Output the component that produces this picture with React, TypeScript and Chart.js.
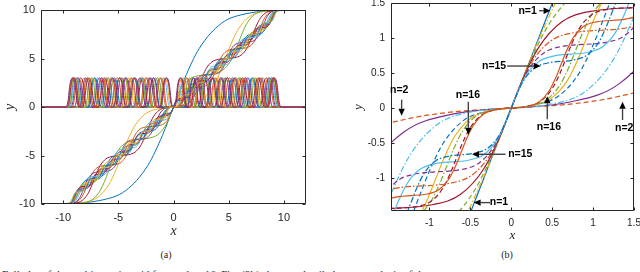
import React, { useEffect, useRef } from 'react';
import { Chart, registerables } from 'chart.js';

Chart.register(...registerables);

// MATLAB default colour order
const COLORS = ['#0072BD', '#D95319', '#EDB120', '#7E2F8E', '#77AC30', '#4DBEEE', '#A2142F'];

// Step centres (x >= 0) of the staircase sigmoid for each n = 1..16
const trans1 = [0];
const trans2 = [4.7];
const trans3 = [0, 5.9];
const trans4 = [2.4, 7.2];
const trans5 = [0, 3.9, 7.8];
const trans6 = [1.62, 4.86, 8.1];
const trans7 = [0, 2.8, 5.6, 8.4];
const trans8 = [1.12, 3.6, 6.1, 8.6];
const trans9 = [0, 2.18, 4.35, 6.53, 8.7];
const trans10 = [0.92, 2.9, 4.87, 6.84, 8.8];
const trans11 = [0, 1.78, 3.56, 5.34, 7.12, 8.9];
const trans12 = [0.79, 2.43, 4.06, 5.7, 7.32, 8.95];
const trans13 = [0, 1.45, 2.95, 4.45, 5.95, 7.45, 9.0];
const trans14 = [0.67, 2.07, 3.47, 4.87, 6.26, 7.66, 9.05];
const trans15 = [0, 1.22, 2.5, 3.8, 5.1, 6.45, 7.8, 9.1];
const trans16 = [0.61, 1.83, 3.05, 4.27, 5.49, 6.71, 7.93, 9.15];
const transitions = [trans1, trans2, trans3, trans4, trans5, trans6, trans7, trans8,
  trans9, trans10, trans11, trans12, trans13, trans14, trans15, trans16];

// shape of one step (position in step widths, fraction of the step height)
const stepU = [-3, -2, -1.3, -0.7, -0.3, 0, 0.3, 0.7, 1.3, 2, 3];
const stepFrac = [0.0025, 0.018, 0.069, 0.198, 0.354, 0.5, 0.646, 0.802, 0.931, 0.982, 0.9975];
const stepCentreSlope = 3;
const outputLevel = 10;

// shape of one bump (panel a)
const bumpDx = [-0.6, -0.42, -0.22, 0, 0.22, 0.42, 0.6];
const bumpH = [0, 0.5, 2.4, 3, 2.4, 0.5, 0];

// axes
const aXMin = -12, aXMax = 12, aYMin = -10, aYMax = 10;
const aXTicks = [-10, -5, 0, 5, 10];
const aYTicks = [-10, -5, 0, 5, 10];
const bXMin = -1.47, bXMax = 1.5, bYMin = -1.47, bYMax = 1.5;
const bXTicks = [-1, -0.5, 0, 0.5, 1, 1.5];
const bYTicks = [-1, -0.5, 0, 0.5, 1, 1.5];

// annotations of panel b
const annoText = ['n=1', 'n=15', 'n=2', 'n=16', 'n=16', 'n=2', 'n=15', 'n=1'];
const annoTextX = [0.2, -0.21, -1.37, -0.53, 0.46, 1.38, 0.11, -0.15];
const annoTextY = [1.39, 0.6, 0.26, 0.18, -0.27, -0.28, -0.66, -1.35];
const arrowX0 = [0.34, -0.05, -1.34, -0.525, 0.44, 1.36, -0.07, -0.26];
const arrowY0 = [1.39, 0.6, 0.12, 0.09, -0.16, -0.17, -0.66, -1.35];
const arrowX1 = [0.48, 0.36, -1.34, -0.525, 0.44, 1.36, -0.48, -0.46];
const arrowY1 = [1.39, 0.6, -0.11, -0.38, 0.17, 0.09, -0.66, -1.35];

type P = { x: number; y: number };

function fullTransitions(pos: number[]): number[] {
  const neg = pos.filter((t) => t > 0).map((t) => -t).reverse();
  return [...neg, ...pos];
}

function stairPoints(n: number, pos: number[]): P[] {
  const ts = fullTransitions(pos);
  const h = (2 * outputLevel) / n;
  const k = (2 * stepCentreSlope) / h;
  const pts: P[] = [{ x: aXMin, y: -outputLevel }];
  ts.forEach((t, i) => {
    const gl = i > 0 ? (t - ts[i - 1]) / 2 : Infinity;
    const gr = i < ts.length - 1 ? (ts[i + 1] - t) / 2 : Infinity;
    const base = -outputLevel + i * h;
    stepU.forEach((u, j) => {
      const dx = u / k;
      if (dx <= -gl || dx >= gr) return;
      pts.push({ x: t + dx, y: base + h * stepFrac[j] });
    });
  });
  pts.push({ x: aXMax, y: outputLevel });
  pts.sort((a, b) => a.x - b.x);
  return pts;
}

function bumpPoints(pos: number[]): P[] {
  const cs = fullTransitions(pos).filter((t) => t !== 0);
  const pts: P[] = [{ x: aXMin, y: 0 }];
  cs.forEach((c) => bumpDx.forEach((d, j) => pts.push({ x: c + d, y: bumpH[j] })));
  pts.push({ x: aXMax, y: 0 });
  return pts;
}

const DASHES: number[][] = [[], [5, 3], [6, 2, 1.5, 2]];

function framePlugin(xt: number[], yt: number[], tickLen: number) {
  return {
    id: 'frame',
    afterDatasetsDraw(chart: any) {
      const { ctx, chartArea: a, scales } = chart;
      ctx.save();
      ctx.strokeStyle = '#262626';
      ctx.lineWidth = 1;
      const L = Math.round(a.left) + 0.5;
      const R = Math.round(a.right) - 0.5;
      const T = Math.round(a.top) + 0.5;
      const B = Math.round(a.bottom) - 0.5;
      ctx.beginPath();
      ctx.rect(L, T, R - L, B - T);
      xt.forEach((v) => {
        const px = Math.round(scales.x.getPixelForValue(v)) + 0.5;
        ctx.moveTo(px, B); ctx.lineTo(px, B - tickLen);
        ctx.moveTo(px, T); ctx.lineTo(px, T + tickLen);
      });
      yt.forEach((v) => {
        const py = Math.round(scales.y.getPixelForValue(v)) + 0.5;
        ctx.moveTo(L, py); ctx.lineTo(L + tickLen, py);
        ctx.moveTo(R, py); ctx.lineTo(R - tickLen, py);
      });
      ctx.stroke();
      ctx.restore();
    },
  };
}

const arrowPlugin = {
  id: 'arrows',
  afterDraw(chart: any) {
    const { ctx, scales } = chart;
    const sx = (v: number) => scales.x.getPixelForValue(v);
    const sy = (v: number) => scales.y.getPixelForValue(v);
    ctx.save();
    annoText.forEach((t, i) => {
      const x0 = sx(arrowX0[i]), y0 = sy(arrowY0[i]);
      const x1 = sx(arrowX1[i]), y1 = sy(arrowY1[i]);
      const ang = Math.atan2(y1 - y0, x1 - x0);
      const hl = 7, hw = 3.2;
      const bx = x1 - hl * Math.cos(ang), by = y1 - hl * Math.sin(ang);
      ctx.strokeStyle = '#444';
      ctx.lineWidth = 1.4;
      ctx.beginPath();
      ctx.moveTo(x0, y0);
      ctx.lineTo(bx, by);
      ctx.stroke();
      ctx.fillStyle = '#000';
      ctx.beginPath();
      ctx.moveTo(x1, y1);
      ctx.lineTo(bx - hw * Math.sin(ang), by + hw * Math.cos(ang));
      ctx.lineTo(bx + hw * Math.sin(ang), by - hw * Math.cos(ang));
      ctx.closePath();
      ctx.fill();
      ctx.font = 'bold 10.5px "Liberation Sans", Arial, sans-serif';
      ctx.textAlign = 'center';
      ctx.textBaseline = 'middle';
      ctx.fillText(t, sx(annoTextX[i]), sy(annoTextY[i]));
    });
    ctx.restore();
  },
};

function axisConfig(opts: {
  min: number; max: number; ticks: number[]; size: number; horizontal: boolean;
  fontSize: number; pad: number; title: string; titleSize: number; titlePad: any;
}) {
  return {
    type: 'linear',
    min: opts.min,
    max: opts.max,
    grid: { display: false, drawTicks: false },
    border: { display: false },
    ticks: {
      autoSkip: false,
      maxRotation: 0,
      padding: opts.pad,
      color: '#262626',
      font: { family: '"Liberation Sans", Arial, sans-serif', size: opts.fontSize },
      callback: (v: any) => String(v),
    },
    title: {
      display: true,
      text: opts.title,
      color: '#262626',
      font: { family: '"Liberation Serif", "DejaVu Serif", serif', style: 'italic', size: opts.titleSize },
      padding: opts.titlePad,
    },
    afterBuildTicks: (s: any) => {
      s.ticks = opts.ticks.map((v) => ({ value: v }));
    },
    afterFit: (s: any) => {
      if (opts.horizontal) {
        s.height = opts.size;
        s.paddingLeft = 0;
        s.paddingRight = 0;
      } else {
        s.width = opts.size;
        s.paddingTop = 0;
        s.paddingBottom = 0;
      }
    },
  };
}

function ChartA() {
  const ref = useRef<HTMLCanvasElement>(null);
  useEffect(() => {
    const datasets: any[] = [];
    transitions.forEach((pos, idx) => {
      const n = idx + 1;
      datasets.push({
        data: stairPoints(n, pos),
        borderColor: COLORS[(2 * n - 2) % 7],
        borderWidth: 1,
        pointRadius: 0,
        cubicInterpolationMode: 'monotone',
        fill: false,
      });
      datasets.push({
        data: bumpPoints(pos),
        borderColor: COLORS[(2 * n - 1) % 7],
        borderWidth: 1,
        pointRadius: 0,
        cubicInterpolationMode: 'monotone',
        fill: false,
      });
    });
    datasets.reverse();
    const chart = new Chart(ref.current as HTMLCanvasElement, {
      type: 'line',
      data: { datasets },
      options: {
        animation: false,
        responsive: true,
        maintainAspectRatio: false,
        events: [],
        layout: { padding: { left: 0, top: 10, right: 14, bottom: 0 }, autoPadding: false },
        elements: { line: { capBezierPoints: false } },
        plugins: { legend: { display: false }, tooltip: { enabled: false } },
        scales: {
          x: axisConfig({ min: aXMin, max: aXMax, ticks: aXTicks, size: 41, horizontal: true,
            fontSize: 11, pad: 7, title: 'x', titleSize: 14, titlePad: { top: 0, bottom: 5 } }),
          y: axisConfig({ min: aYMin, max: aYMax, ticks: aYTicks, size: 41, horizontal: false,
            fontSize: 11, pad: 6, title: 'y', titleSize: 14, titlePad: { top: 2, bottom: 0 } }),
        } as any,
      },
      plugins: [framePlugin(aXTicks, aYTicks, 3)],
    } as any);
    return () => chart.destroy();
  }, []);
  return (
    <div style={{ position: 'absolute', left: 0, top: 0, width: 320, height: 245 }}>
      <canvas ref={ref} />
    </div>
  );
}

function ChartB() {
  const ref = useRef<HTMLCanvasElement>(null);
  useEffect(() => {
    const datasets: any[] = transitions.map((pos, idx) => {
      const n = idx + 1;
      return {
        data: stairPoints(n, pos),
        borderColor: COLORS[(n - 1) % 7],
        borderDash: DASHES[(n - 1) % 3],
        borderWidth: 1.2,
        pointRadius: 0,
        cubicInterpolationMode: 'monotone',
        fill: false,
      };
    });
    datasets.reverse();
    const chart = new Chart(ref.current as HTMLCanvasElement, {
      type: 'line',
      data: { datasets },
      options: {
        animation: false,
        responsive: true,
        maintainAspectRatio: false,
        events: [],
        layout: { padding: { left: 0, top: 3, right: 6, bottom: 0 }, autoPadding: false },
        elements: { line: { capBezierPoints: false } },
        plugins: { legend: { display: false }, tooltip: { enabled: false } },
        scales: {
          x: axisConfig({ min: bXMin, max: bXMax, ticks: bXTicks, size: 34, horizontal: true,
            fontSize: 10, pad: 6, title: 'x', titleSize: 13, titlePad: { top: 0, bottom: 2 } }),
          y: axisConfig({ min: bYMin, max: bYMax, ticks: bYTicks, size: 71, horizontal: false,
            fontSize: 10, pad: 6, title: 'y', titleSize: 13, titlePad: { top: 31, bottom: 0 } }),
        } as any,
      },
      plugins: [framePlugin(bXTicks, bYTicks, 3), arrowPlugin],
    } as any);
    return () => chart.destroy();
  }, []);
  return (
    <div style={{ position: 'absolute', left: 320, top: 0, width: 320, height: 245 }}>
      <canvas ref={ref} />
    </div>
  );
}

const serif = '"Liberation Serif", "Times New Roman", serif';

export default function App() {
  return (
    <div style={{ position: 'fixed', left: 0, top: 0, width: 640, height: 272, overflow: 'hidden', background: '#fff' }}>
      <ChartA />
      <ChartB />
      <div style={{ position: 'absolute', left: 146, width: 40, top: 249, textAlign: 'center', fontFamily: serif, fontSize: 10, lineHeight: '12px', color: '#222' }}>(a)</div>
      <div style={{ position: 'absolute', left: 487, width: 40, top: 249, textAlign: 'center', fontFamily: serif, fontSize: 10, lineHeight: '12px', color: '#222' }}>(b)</div>
      <div style={{ position: 'absolute', left: 2, top: 269, whiteSpace: 'nowrap', fontFamily: serif, fontSize: 11, lineHeight: '11px', color: '#222' }}>
        Full plot of the multistep sigmoid for n = 1 to 16. Fig. (3b) shows a detailed zoom analysis of the output
      </div>
    </div>
  );
}
